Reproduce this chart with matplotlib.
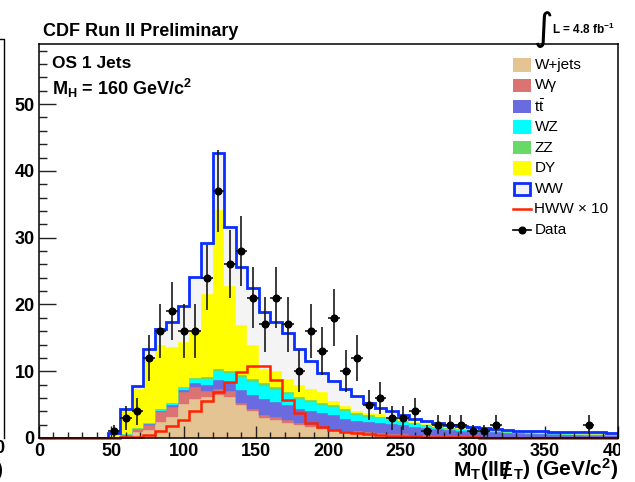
import numpy as np
import matplotlib
matplotlib.use("Agg")
import matplotlib.pyplot as plt
from matplotlib.ticker import MultipleLocator
from matplotlib.patches import Rectangle
from matplotlib.lines import Line2D

plt.rcParams['font.family'] = ['Liberation Sans', 'DejaVu Sans']
plt.rcParams['mathtext.fontset'] = 'custom'
plt.rcParams['mathtext.rm'] = 'Liberation Sans'
plt.rcParams['mathtext.bf'] = 'Liberation Sans:bold'
plt.rcParams['mathtext.it'] = 'Liberation Sans:italic'

# ---------------- data (8 GeV bins, 0-400) ----------------
bin_edges = np.arange(0, 401, 8)
Z6 = [0, 0, 0, 0, 0, 0]
wjets = Z6 + [0.05, 0.2, 0.9, 1.2, 2.4, 3.2, 5.1, 5.9, 6.1, 6.4, 6.2, 4.9, 4.0, 3.0, 2.7, 2.3,
              1.9, 1.7, 1.3, 1.1, 1.0, 0.8, 0.7, 0.6, 0.5, 0.45, 0.4, 0.35, 0.3, 0.25, 0.2, 0.2,
              0.15, 0.15, 0.1, 0.1, 0.1, 0.1, 0.05, 0.05, 0.05, 0.05, 0.05, 0.05]
wgamma = Z6 + [0.05, 0.25, 0.4, 0.75, 1.5, 1.5, 1.8, 1.7, 1.0, 1.0, 0.8, 0.4, 0.4, 0.4, 0.4, 0.4,
               0.3, 0.3, 0.3, 0.2, 0.1, 0.2, 0.15, 0.1, 0.1, 0.1, 0.1, 0.05, 0.05, 0.05, 0.05, 0.05,
               0.05, 0.05, 0.05, 0.05, 0.02, 0.02, 0.02, 0.02, 0.02, 0.02, 0.02, 0.02]
ttbar = Z6 + [0.05, 0.05, 0.05, 0.1, 0.1, 0.25, 0.3, 0.6, 0.9, 1.3, 1.4, 1.9, 2.0, 2.5, 2.3, 2.2,
              2.1, 2.0, 2.1, 2.2, 1.8, 1.6, 1.55, 1.6, 1.5, 1.35, 1.2, 1.1, 0.95, 0.9, 0.85, 0.75,
              0.75, 0.7, 0.65, 0.55, 0.53, 0.48, 0.48, 0.43, 0.43, 0.38, 0.38, 0.33]
wz = Z6 + [0.05, 0.05, 0.05, 0.15, 0.2, 0.25, 0.4, 0.6, 0.9, 1.4, 1.4, 1.9, 2.0, 1.9, 1.8, 1.7,
           1.6, 1.4, 1.3, 1.2, 1.1, 0.9, 0.8, 0.7, 0.6, 0.5, 0.4, 0.3, 0.25, 0.2, 0.2, 0.2,
           0.15, 0.1, 0.1, 0.1, 0.1, 0.1, 0.1, 0.1, 0.05, 0.05, 0.05, 0.05]
zz = Z6 + [0.0, 0.05, 0.05, 0.05, 0.1, 0.1, 0.1, 0.2, 0.2, 0.2, 0.3, 0.3, 0.4, 0.4, 0.5, 0.3,
           0.3, 0.3, 0.3, 0.3, 0.3, 0.2, 0.2, 0.2, 0.2, 0.2, 0.2, 0.15, 0.1, 0.1, 0.1, 0.1,
           0.1, 0.1, 0.05, 0.05, 0.05, 0.05, 0.05, 0.05, 0.05, 0.05, 0.05, 0.05]
dy = Z6 + [0.4, 3.6, 5.95, 9.65, 9.6, 8.3, 6.7, 6.9, 12.5, 23.9, 12.7, 7.5, 5.1, 2.1, 2.4, 2.0,
           1.7, 1.6, 1.6, 0.6, 0.5, 0.4, 0.4, 0.4, 0.3, 0.2, 0.1, 0.1, 0.1, 0.1, 0.1, 0.1,
           0.1, 0.1, 0.05, 0.05, 0.05, 0.05, 0.05, 0.05, 0.05, 0.05, 0.05, 0.05]
ww = Z6 + [0.1, 0.2, 0.4, 1.5, 2.4, 3.8, 5.3, 8.2, 7.6, 8.5, 8.8, 8.7, 8.5, 8.6, 7.3, 6.8,
           5.5, 4.3, 2.9, 3.0, 2.6, 2.2, 1.5, 0.9, 0.8, 0.6, 0.5, 0.55, 0.45, 0.35, 0.3, 0.3,
           0.2, 0.2, 0.2, 0.15, 0.15, 0.2, 0.2, 0.2, 0.25, 0.25, 0.25, 0.25]
hww_x10 = Z6 + [0.05, 0.1, 0.2, 0.5, 1.1, 1.8, 2.7, 4.0, 5.5, 6.9, 8.4, 9.9, 10.8, 10.8, 8.7, 5.7,
                3.7, 2.3, 1.7, 1.2, 0.95, 0.7, 0.55, 0.45, 0.35, 0.3, 0.25, 0.2, 0.15, 0.1, 0.1, 0.1,
                0.05, 0.05, 0.05, 0.05, 0.05, 0.05, 0.02, 0.02, 0.02, 0.02, 0.02, 0.02]
data = Z6 + [1, 3, 4, 12, 16, 19, 16, 16, 24, 37, 26, 28, 21, 17, 21, 17,
             10, 16, 13, 18, 10, 12, 5, 6, 3, 3, 4, 1, 2, 2, 2, 1,
             1, 2, 0, 0, 0, 0, 0, 0, 0, 2, 0, 0]

layer_names = ["W+jets", "W\u03b3", r"t$\bar{\mathdefault{t}}$", "WZ", "ZZ", "DY", "WW"]
layer_vals = [wjets, wgamma, ttbar, wz, zz, dy, ww]
layer_cols = ["#e5c494", "#db7373", "#6b6be0", "#00ffff", "#66d966", "#ffff00", "#f4f4f4"]
ww_line = "#0a2eff"
hww_col = "#ff2200"

# ---------------- figure ----------------
W, H = 635, 482
fig = plt.figure(figsize=(W / 100, H / 100), dpi=100)


def fx(px):
    return px / W


def fy(py):
    return 1 - py / H


ax = fig.add_axes([fx(39), fy(438), (617.5 - 39) / W, (438 - 44) / H])

base = np.zeros(len(bin_edges) - 1)
for vals, col in zip(layer_vals, layer_cols):
    top = base + np.asarray(vals, dtype=float)
    ax.stairs(top, bin_edges, baseline=base, fill=True, facecolor=col,
              edgecolor=col, lw=0.3, zorder=1)
    base = top
ax.stairs(base, bin_edges, baseline=0, color=ww_line, lw=2.0, zorder=2)
ax.stairs(hww_x10, bin_edges, baseline=None, color=hww_col, lw=1.8, zorder=3,
          clip_on=False)

centers = (bin_edges[:-1] + bin_edges[1:]) / 2
d = np.asarray(data, dtype=float)
m = d > 0
ax.errorbar(centers[m], d[m], yerr=np.sqrt(d[m]), xerr=4, fmt='o', ms=4.8,
            color='black', ecolor='#1a1a1a', elinewidth=1.2, capsize=0, zorder=6)

ax.set_xlim(0, 400)
ax.set_ylim(0, 59)
ax.xaxis.set_major_locator(MultipleLocator(50))
ax.xaxis.set_minor_locator(MultipleLocator(10))
ax.yaxis.set_major_locator(MultipleLocator(10))
ax.yaxis.set_minor_locator(MultipleLocator(2))
ax.tick_params(which='both', direction='in', top=False, right=False, width=1.0,
               color='#222222')
ax.tick_params(axis='x', which='major', length=8.6)
ax.tick_params(axis='x', which='minor', length=4.3)
ax.tick_params(axis='y', which='major', length=12)
ax.tick_params(axis='y', which='minor', length=6)
ax.tick_params(axis='x', labelsize=13, pad=3.5)
ax.tick_params(axis='y', labelsize=13, pad=3)
for lab in ax.get_xticklabels() + ax.get_yticklabels():
    lab.set_fontweight('bold')
for s in ax.spines.values():
    s.set_linewidth(1.1)
    s.set_zorder(4)

# ---------------- texts ----------------
fig.text(fx(43), fy(36), "CDF Run II Preliminary", fontsize=13, fontweight='bold',
         va='baseline', ha='left')
fig.text(fx(534), fy(40), "\u222b", fontsize=27, family=['DejaVu Sans', 'Liberation Sans'],
         va='baseline', ha='left')
fig.text(fx(552), fy(34), r"L = 4.8 fb$^{\mathdefault{-1}}$", fontsize=8.5, fontweight='bold',
         va='baseline', ha='left')
fig.text(fx(52), fy(68), "OS 1 Jets", fontsize=12.5, fontweight='bold',
         va='baseline', ha='left')
fig.text(fx(52), fy(95), r"M$_{\mathdefault{H}}$ = 160 GeV/c$^{\mathdefault{2}}$",
         fontsize=13, fontweight='bold', va='baseline', ha='left')

# legend (manual, ROOT style)
rows_y = [65, 85.5, 106.3, 127, 147.7, 168, 188.8, 209.3, 230]
sw_x0, sw_x1, sw_h = 512.5, 531, 13.4
for i, (name, col) in enumerate(zip(layer_names, layer_cols)):
    yc = rows_y[i]
    if name == "WW":
        rect = Rectangle((fx(sw_x0 + 1), fy(yc + sw_h / 2 - 1)), (sw_x1 - sw_x0 - 2) / W,
                         (sw_h - 2) / H, transform=fig.transFigure, facecolor=col,
                         edgecolor=ww_line, lw=2.0)
    else:
        rect = Rectangle((fx(sw_x0), fy(yc + sw_h / 2)), (sw_x1 - sw_x0) / W, sw_h / H,
                         transform=fig.transFigure, facecolor=col, edgecolor='none')
    fig.patches.append(rect)
    fig.text(fx(534.5), fy(yc), name, fontsize=11, va='center', ha='left')
yc = rows_y[7]
fig.lines.append(Line2D([fx(sw_x0), fx(sw_x1)], [fy(yc), fy(yc)], color=hww_col, lw=1.8,
                        transform=fig.transFigure))
fig.text(fx(534.5), fy(yc), "HWW \u00d7 10", fontsize=11, va='center', ha='left')
yc = rows_y[8]
fig.lines.append(Line2D([fx(sw_x0), fx(sw_x1)], [fy(yc), fy(yc)], color='black', lw=1.2,
                        transform=fig.transFigure))
fig.lines.append(Line2D([fx((sw_x0 + sw_x1) / 2)], [fy(yc)], color='black', marker='o',
                        ms=4.8, transform=fig.transFigure))
fig.text(fx(534.5), fy(yc), "Data", fontsize=11, va='center', ha='left')

# x label assembled from pieces (slashed E)
fig.canvas.draw()
r = fig.canvas.get_renderer()
kw = dict(fontsize=15, fontweight='bold', va='baseline', ha='left')
pieces = [r"M$_{\mathdefault{T}}$(ll", "E", r"$_{\mathdefault{T}}$) (GeV/c$^{\mathdefault{2}}$)"]
tmp = [fig.text(0, 0, p, **kw) for p in pieces]
widths = [t.get_window_extent(r).width for t in tmp]
for t in tmp:
    t.remove()
x0 = 618 - sum(widths)
ybase = 476
xs = x0
for p, w in zip(pieces, widths):
    fig.text(fx(xs), fy(ybase), p, **kw)
    if p == "E":
        fig.text(fx(xs + w / 2), fy(ybase + 3), "/", fontsize=17, fontweight='bold',
                 va='baseline', ha='center')
    xs += w

# remnants of the neighbouring panel on the left
fig.lines.append(Line2D([fx(0), fx(3.5), fx(3.5)], [fy(39), fy(39), fy(438)], color='black',
                        lw=1.0, transform=fig.transFigure))
fig.text(fx(-6), fy(453), "0", fontsize=13, fontweight='bold', ha='left', va='baseline')
fig.text(fx(-4), fy(476), ")", fontsize=15, fontweight='bold', ha='left', va='baseline')

# the source image is cropped just right of the frame
fig.patches.append(Rectangle((fx(619.5), 0), (W - 619.5) / W, 1, transform=fig.transFigure,
                             facecolor='white', edgecolor='none', zorder=10))

fig.savefig("out.png", dpi=100)
